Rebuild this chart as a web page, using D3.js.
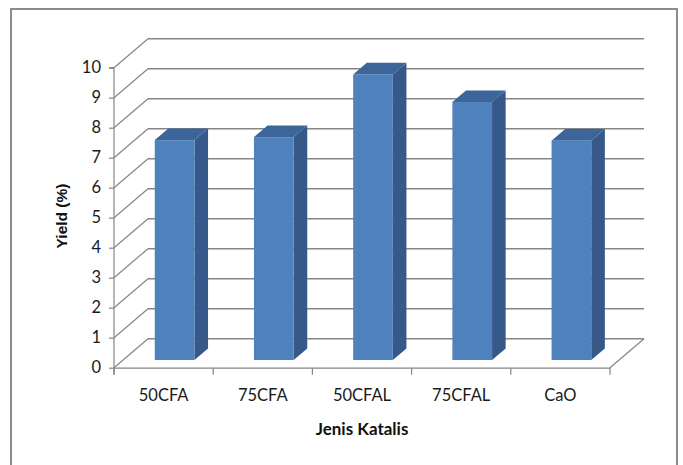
<!DOCTYPE html>
<html>
<head>
<meta charset="utf-8">
<script src="https://cdn.jsdelivr.net/npm/d3@7/dist/d3.min.js"></script>
<style>
  html, body { margin: 0; padding: 0; background: #fff; }
  svg { display: block; }
</style>
</head>
<body>
<svg id="chart" width="683" height="465"></svg>
<script>
// Yield per catalyst type
const categories = ["50CFA", "75CFA", "50CFAL", "75CFAL", "CaO"];
const yieldValues = [7.33, 7.43, 9.52, 8.6, 7.31];
const yTicks = [0, 1, 2, 3, 4, 5, 6, 7, 8, 9, 10];

const svg = d3.select("#chart");

// Chart frame
svg.append("rect")
  .attr("x", 11).attr("y", 9)
  .attr("width", 666).attr("height", 470)
  .attr("fill", "#fff")
  .attr("stroke", "#8c8c8c").attr("stroke-width", 2);

// Front plane of the 3D box
const x = d3.scaleBand().domain(categories).range([114, 610]).paddingInner(0).paddingOuter(0);
const y = d3.scaleLinear().domain([0, 10]).range([367.7, 67.7]);

// Depth vector of the box (front -> back)
const depth = { dx: 34, dy: -29 };
const proj = (px, py, f) => [px + depth.dx * f, py + depth.dy * f];

const gridColor = "#868686";
const grid = svg.append("g").attr("fill", "none");

// Back wall gridlines
grid.selectAll("line.back").data(yTicks).join("line")
  .attr("class", "back")
  .attr("x1", x.range()[0] + depth.dx).attr("x2", x.range()[1] + depth.dx)
  .attr("y1", d => y(d) + depth.dy).attr("y2", d => y(d) + depth.dy)
  .attr("stroke", gridColor).attr("stroke-width", 1.6);

// Side wall lines
grid.selectAll("line.side").data(yTicks).join("line")
  .attr("class", "side")
  .attr("x1", x.range()[0]).attr("y1", d => y(d))
  .attr("x2", x.range()[0] + depth.dx).attr("y2", d => y(d) + depth.dy)
  .attr("stroke", gridColor).attr("stroke-width", 1.2);

// Floor right edge
grid.append("line")
  .attr("x1", x.range()[1]).attr("y1", y(0))
  .attr("x2", x.range()[1] + depth.dx).attr("y2", y(0) + depth.dy)
  .attr("stroke", gridColor).attr("stroke-width", 1.2);

const labelFont = "Lato, 'Open Sans', sans-serif";

// Value axis
const yAxis = d3.axisLeft(y).tickValues(yTicks).tickSize(5).tickPadding(8).tickFormat(d3.format("d"));
const gy = svg.append("g").attr("transform", `translate(${x.range()[0]},0)`).call(yAxis);
gy.select(".domain").attr("stroke", gridColor).attr("stroke-width", 1.2)
  .attr("d", `M-5,${y(10)}H0V${y(0) + 7}`);
gy.selectAll(".tick line").attr("stroke", gridColor).attr("stroke-width", 1.2);
gy.selectAll(".tick text")
  .attr("font-family", labelFont)
  .attr("font-size", 16.5).attr("fill", "#1a1a1a");

// Category axis (front floor edge)
const xAxis = d3.axisBottom(x).tickSize(0).tickPadding(22);
const gx = svg.append("g").attr("transform", `translate(0,${y(0)})`).call(xAxis);
gx.select(".domain").attr("stroke", gridColor).attr("stroke-width", 1.2);
gx.selectAll(".tick text")
  .attr("font-family", labelFont)
  .attr("font-size", 16.5).attr("fill", "#1a1a1a");
// Boundary tick marks between categories
const bounds = categories.map(c => x(c)).concat([x.range()[1]]);
gx.selectAll("line.bound").data(bounds).join("line")
  .attr("class", "bound")
  .attr("x1", d => d).attr("x2", d => d)
  .attr("y1", 0).attr("y2", 7)
  .attr("stroke", gridColor).attr("stroke-width", 1.2);

// 3D columns
const barW = x.bandwidth() / 2.5;
const f0 = 0.265, f1 = 0.665;
const colors = { front: "#4f81bd", side: "#36598a", top: "#3c6599" };

const bars = svg.append("g").selectAll("g.bar")
  .data(categories.map((c, i) => ({ c, v: yieldValues[i] })))
  .join("g").attr("class", "bar");

const poly = pts => "M" + pts.map(p => p.join(",")).join("L") + "Z";

bars.each(function(d) {
  const g = d3.select(this);
  const xl = x(d.c) + x.bandwidth() / 2 - barW / 2 + 2;
  const xr = xl + barW;
  const yb = y(0), yt = y(d.v);
  // side face
  g.append("path")
    .attr("d", poly([proj(xr, yb, f0), proj(xr, yb, f1), proj(xr, yt, f1), proj(xr, yt, f0)]))
    .attr("fill", colors.side);
  // top face
  g.append("path")
    .attr("d", poly([proj(xl, yt, f0), proj(xr, yt, f0), proj(xr, yt, f1), proj(xl, yt, f1)]))
    .attr("fill", colors.top);
  // front face
  const [fx, fy] = proj(xl, yt, f0);
  const [, fyb] = proj(xl, yb, f0);
  g.append("rect")
    .attr("x", fx).attr("y", fy)
    .attr("width", barW).attr("height", fyb - fy)
    .attr("fill", colors.front);
});

// Axis titles
svg.append("text")
  .attr("transform", `translate(67,216) rotate(-90)`)
  .attr("text-anchor", "middle")
  .attr("font-family", "'Liberation Sans', Arial, sans-serif")
  .attr("font-weight", "bold").attr("font-size", 15.5).attr("fill", "#111")
  .text("Yield (%)");

svg.append("text")
  .attr("x", 362).attr("y", 435)
  .attr("text-anchor", "middle")
  .attr("font-family", labelFont)
  .attr("font-weight", "bold").attr("font-size", 17).attr("fill", "#111")
  .text("Jenis Katalis");
</script>
</body>
</html>
